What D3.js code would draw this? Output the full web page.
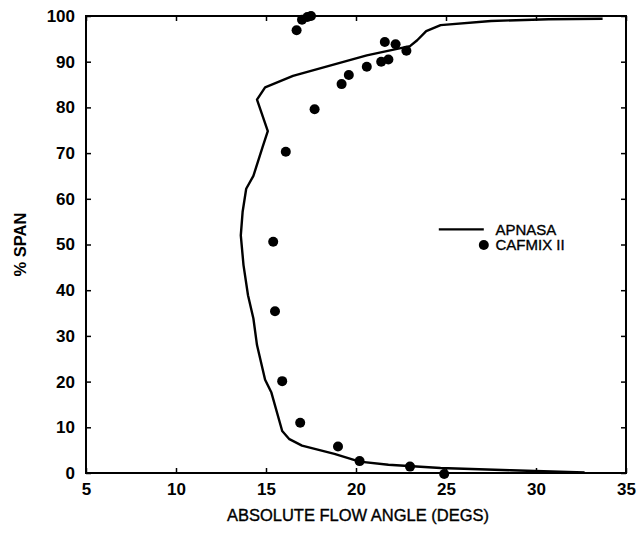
<!DOCTYPE html>
<html>
<head>
<meta charset="utf-8">
<script src="https://cdn.jsdelivr.net/npm/d3@7"></script>
<style>
  html, body { margin: 0; padding: 0; background: #fff; }
  svg { display: block; }
  text { font-family: "Liberation Sans", Arial, Helvetica, sans-serif; fill: #000; }
</style>
</head>
<body>
<svg id="chart" width="641" height="537"></svg>
<script>
// APNASA line (angle in degrees, % span)
const apnasaAngle = [33.7, 30.7, 27.5, 24.7, 23.9, 23.4, 23.0, 20.6, 16.5, 14.95, 14.5, 15.1, 14.8, 14.3, 13.9, 13.7, 13.6, 13.75, 14.0, 14.3, 14.5, 14.95, 15.3, 15.9, 16.3, 17.0, 18.8, 20.2, 21.8, 24.7, 28.6, 32.7];
const apnasaSpan  = [99.4, 99.3, 98.9, 98.0, 96.7, 94.7, 93.4, 91.4, 86.9, 84.4, 81.7, 74.8, 71.2, 65.0, 62.2, 57.1, 52.0, 45.5, 38.9, 33.8, 28.0, 20.4, 17.6, 9.2, 7.4, 6.0, 4.2, 2.5, 1.8, 1.1, 0.6, 0.1];

// CAFMIX II points
const cafmixAngle = [16.7, 17.0, 17.3, 17.5, 17.7, 16.1, 19.2, 19.6, 20.6, 21.4, 21.8, 21.6, 22.2, 22.8, 15.4, 15.5, 15.9, 16.9, 19.0, 20.2, 23.0, 24.9];
const cafmixSpan  = [96.9, 99.2, 99.8, 100.0, 79.6, 70.3, 85.1, 87.1, 88.9, 90.0, 90.5, 94.3, 93.8, 92.4, 50.6, 35.4, 20.1, 11.0, 5.8, 2.6, 1.4, -0.2];

const xTicks = [5, 10, 15, 20, 25, 30, 35];
const yTicks = [0, 10, 20, 30, 40, 50, 60, 70, 80, 90, 100];
const seriesNames = ["APNASA", "CAFMIX II"];

const W = 641, H = 537;
const m = { left: 86, right: 15, top: 16, bottom: 64 };
const svg = d3.select("#chart");

const x = d3.scaleLinear().domain([5, 35]).range([m.left, W - m.right]);
const y = d3.scaleLinear().domain([0, 100]).range([H - m.bottom, m.top]);

const g = svg.append("g");

// frame
g.append("rect")
  .attr("x", x(5)).attr("y", y(100))
  .attr("width", x(35) - x(5)).attr("height", y(0) - y(100))
  .attr("fill", "none").attr("stroke", "#000").attr("stroke-width", 2);

// axes (ticks inward)
const tickLen = 5;
const axB = g.append("g").attr("transform", `translate(0,${y(0)})`)
  .call(d3.axisBottom(x).tickValues(xTicks).tickSizeInner(-tickLen).tickSizeOuter(0).tickPadding(10));
const axL = g.append("g").attr("transform", `translate(${x(5)},0)`)
  .call(d3.axisLeft(y).tickValues(yTicks).tickSizeInner(-tickLen).tickSizeOuter(0).tickPadding(11));
const axT = g.append("g").attr("transform", `translate(0,${y(100)})`)
  .call(d3.axisTop(x).tickValues(xTicks).tickSizeInner(-tickLen).tickSizeOuter(0).tickFormat(""));
const axR = g.append("g").attr("transform", `translate(${x(35)},0)`)
  .call(d3.axisRight(y).tickValues(yTicks).tickSizeInner(-tickLen).tickSizeOuter(0).tickFormat(""));

[axB, axL, axT, axR].forEach(a => {
  a.select(".domain").remove();
  a.selectAll(".tick line").attr("stroke", "#000").attr("stroke-width", 1.5);
  a.selectAll(".tick text").attr("font-size", 17).attr("font-weight", "bold").attr("fill", "#000");
});

// axis titles
svg.append("text")
  .attr("x", (x(5) + x(35)) / 2 + 2).attr("y", 521)
  .attr("text-anchor", "middle").attr("font-size", 16.5)
  .attr("stroke", "#000").attr("stroke-width", 0.35)
  .text("ABSOLUTE FLOW ANGLE (DEGS)");
svg.append("text")
  .attr("transform", `translate(26,${(y(0) + y(100)) / 2}) rotate(-90)`)
  .attr("text-anchor", "middle").attr("font-size", 16.5).attr("font-weight", "bold")
  .text("% SPAN");

// APNASA line
const lineData = apnasaAngle.map((a, i) => [a, apnasaSpan[i]]);
g.append("path")
  .datum(lineData)
  .attr("fill", "none").attr("stroke", "#000").attr("stroke-width", 2.4)
  .attr("stroke-linejoin", "round")
  .attr("d", d3.line().x(d => x(d[0])).y(d => y(d[1])));

// CAFMIX points
g.selectAll("circle.pt")
  .data(cafmixAngle.map((a, i) => [a, cafmixSpan[i]]))
  .join("circle").attr("class", "pt")
  .attr("cx", d => x(d[0])).attr("cy", d => y(d[1]))
  .attr("r", 5).attr("fill", "#000");

// legend
const lg = svg.append("g");
lg.append("line")
  .attr("x1", x(24.6)).attr("x2", x(27.1))
  .attr("y1", y(53.3)).attr("y2", y(53.3))
  .attr("stroke", "#000").attr("stroke-width", 2.4);
lg.append("text")
  .attr("x", x(27.75)).attr("y", y(53.3) + 5.5)
  .attr("font-size", 15).attr("stroke", "#000").attr("stroke-width", 0.35)
  .text(seriesNames[0]);
lg.append("circle")
  .attr("cx", x(27.1)).attr("cy", y(49.9)).attr("r", 5).attr("fill", "#000");
lg.append("text")
  .attr("x", x(27.75)).attr("y", y(49.9) + 5.5)
  .attr("font-size", 15).attr("stroke", "#000").attr("stroke-width", 0.35)
  .text(seriesNames[1]);
</script>
</body>
</html>
